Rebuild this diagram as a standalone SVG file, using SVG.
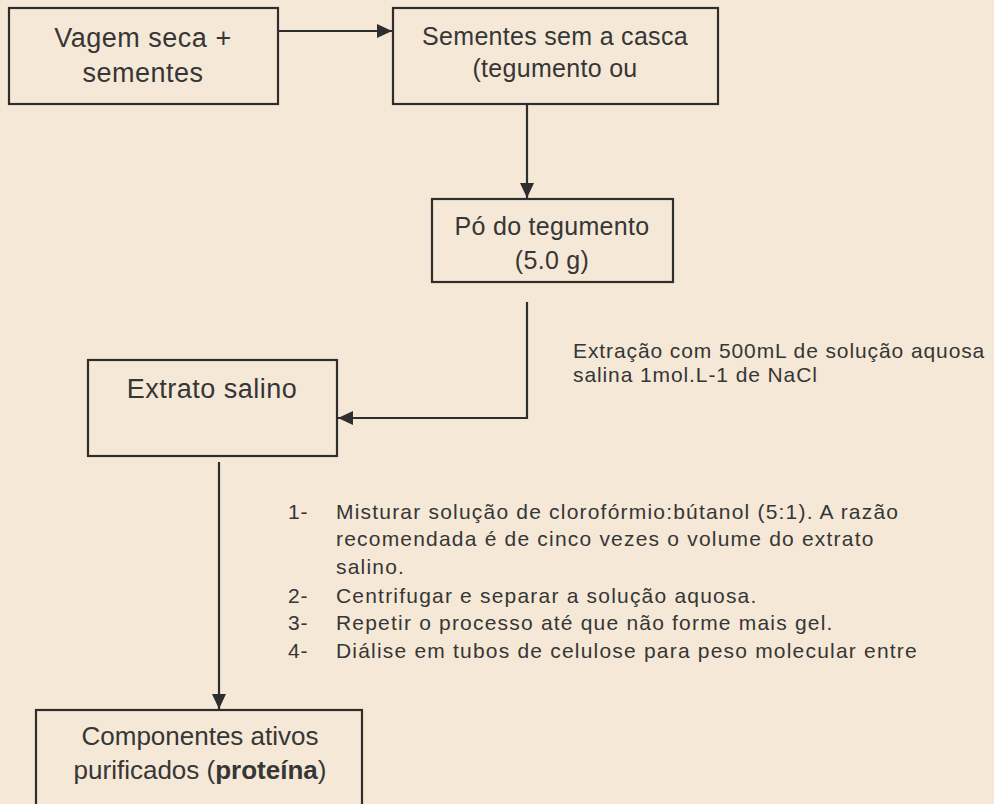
<svg xmlns="http://www.w3.org/2000/svg" width="994" height="804" viewBox="0 0 994 804">
<defs>
<style>
.bg{fill:#f5e8d7}
.box{fill:none;stroke:#2e2e2e;stroke-width:2.2}
.conn{fill:none;stroke:#2e2e2e;stroke-width:2.2}
.t{font-family:"Liberation Sans",Arial,sans-serif;fill:#363636;text-anchor:middle}
.tb{font-size:25px;letter-spacing:0.3px}
.tl{font-size:27px;letter-spacing:0.5px}
.s{font-family:"Liberation Sans",Arial,sans-serif;fill:#363636;font-size:21px;letter-spacing:0.9px}
.li{letter-spacing:1.2px}
</style>
<marker id="arr" markerUnits="userSpaceOnUse" markerWidth="16" markerHeight="14" refX="15" refY="7" orient="auto">
<path d="M0,0 L15,7 L0,14 Z" fill="#2e2e2e"/>
</marker>
</defs>
<rect class="bg" x="0" y="0" width="994" height="804"/>

<g id="connectors">
<line class="conn" x1="278" y1="31" x2="392" y2="31" marker-end="url(#arr)"/>
<line class="conn" x1="527" y1="104" x2="527" y2="198" marker-end="url(#arr)"/>
<polyline class="conn" points="527,302 527,418 338,418" marker-end="url(#arr)"/>
<line class="conn" x1="219" y1="462" x2="219" y2="709" marker-end="url(#arr)"/>
</g>

<g id="node-vagem">
<rect class="box" x="9" y="8" width="269" height="96"/>
<text class="t tl" x="143" y="47">Vagem seca +</text>
<text class="t tl" x="143" y="82">sementes</text>
</g>

<g id="node-sementes">
<rect class="box" x="393" y="8" width="325" height="96"/>
<text class="t tb" x="555" y="45">Sementes sem a casca</text>
<text class="t tb" x="555" y="77">(tegumento ou</text>
</g>

<g id="node-po">
<rect class="box" x="432" y="199" width="241" height="83"/>
<text class="t tb" x="552" y="235">Pó do tegumento</text>
<text class="t tb" x="552" y="269">(5.0 g)</text>
</g>

<g id="label-extracao">
<text class="s" x="573" y="358">Extração com 500mL de solução aquosa</text>
<text class="s" x="573" y="382">salina 1mol.L-1 de NaCl</text>
</g>

<g id="node-extrato">
<rect class="box" x="88" y="360" width="249" height="96"/>
<text class="t tl" x="212" y="398">Extrato salino</text>
</g>

<g id="label-passos">
<text class="s" x="288" y="519">1-</text>
<text class="s li" x="336" y="519">Misturar solução de clorofórmio:bútanol (5:1). A razão</text>
<text class="s li" x="336" y="546">recomendada é de cinco vezes o volume do extrato</text>
<text class="s li" x="336" y="574">salino.</text>
<text class="s" x="288" y="603">2-</text>
<text class="s li" x="336" y="603">Centrifugar e separar a solução aquosa.</text>
<text class="s" x="288" y="630">3-</text>
<text class="s li" x="336" y="630">Repetir o processo até que não forme mais gel.</text>
<text class="s" x="288" y="658">4-</text>
<text class="s li" x="336" y="658">Diálise em tubos de celulose para peso molecular entre</text>
</g>

<g id="node-componentes">
<rect class="box" x="36" y="710" width="326" height="120"/>
<text class="t" style="font-size:26px" x="200" y="745">Componentes ativos</text>
<text class="t" style="font-size:26px" x="200" y="779">purificados (<tspan font-weight="bold">proteína</tspan>)</text>
</g>
</svg>
